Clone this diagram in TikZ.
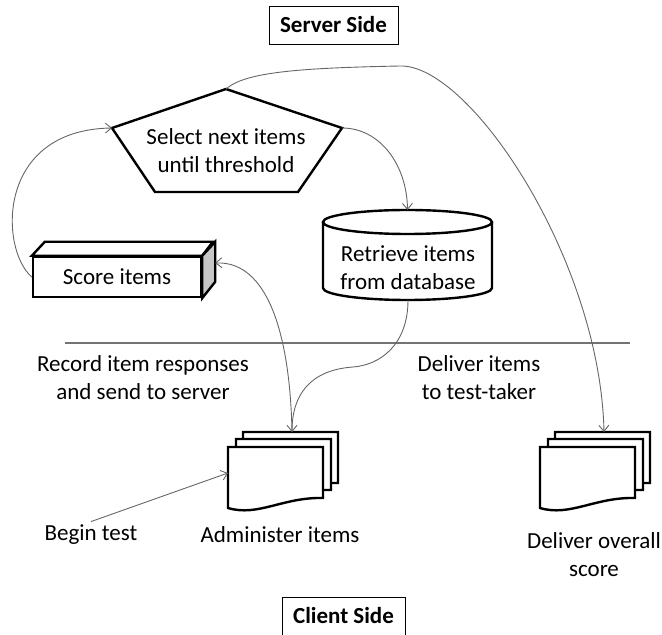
\documentclass[tikz,border=0pt]{standalone}
\usepackage{fontspec}
\setmainfont{Carlito}
\usepackage{tikz}
\usetikzlibrary{arrows.meta, positioning, calc}

\begin{document}
\begin{tikzpicture}[
    x = 1pt, y = 1pt,
    every node/.style = { font = \fontsize{23}{28}\selectfont, align = center },
    shapeline/.style  = { draw = black, line width = 2.4pt },
    sidebox/.style    = {
        rectangle, draw = black, line width = 0.9pt,
        font = \fontsize{23}{28}\selectfont\bfseries,
        minimum width = 129pt, minimum height = 38pt
    },
    flow/.style    = { -{Straight Barb[length=6pt, width=10pt]}, draw = black!60, line width = 0.9pt },
    divider/.style = { draw = black!55, line width = 1.4pt },
    docstack/.pic  = {
        % three sheets, drawn back to front
        \foreach \d in {15, 8, 0} {
            \draw[shapeline, fill = white]
                (\d, \d) -- (\d+95, \d) -- (\d+95, \d-51)
                .. controls (\d+55, \d-50) and (\d+30, \d-70) .. (\d, \d-61) -- cycle;
        }
        \coordinate (-top)  at (64, 15);
        \coordinate (-left) at (0, -26);
    },
]
\useasboundingbox (0,0) rectangle (662,635);

%% ── Side labels ──────────────────────────────────────────────────────────
\node[sidebox] (server) at (333.5,610) {Server Side};
\node[sidebox, minimum width = 123pt] (client) at (343.5,19) {Client Side};

%% ── Selection pentagon ───────────────────────────────────────────────────
\node (select) at (226,484) {Select next items\\until threshold};
\coordinate (sel-top) at ($(select)+(0,62)$);
\coordinate (sel-ul)  at ($(select)+(-114,23)$);
\coordinate (sel-ur)  at ($(select)+(116,23)$);
\coordinate (sel-bl)  at ($(select)+(-71,-41)$);
\coordinate (sel-br)  at ($(select)+(72,-41)$);
\draw[shapeline] (sel-top) -- (sel-ur) -- (sel-br) -- (sel-bl) -- (sel-ul) -- cycle;

%% ── Database cylinder ────────────────────────────────────────────────────
\node (dbase) at (408,367) {Retrieve items\\from database};
\coordinate (dbase-top) at ($(dbase)+(-0.5,58)$);
\coordinate (dbase-bot) at ($(dbase)+(0,-32)$);
\draw[shapeline]
    ($(dbase)+(-85,46)$) -- ($(dbase)+(-85,-20)$)
    arc[start angle = 180, end angle = 360, x radius = 84.5, y radius = 12]
    -- ($(dbase)+(84,46)$);
\draw[shapeline] ($(dbase)+(-0.5,46)$) ellipse[x radius = 84.5, y radius = 12];

%% ── Scoring box (3D) ─────────────────────────────────────────────────────
\node[shapeline, fill = white, minimum width = 168pt, minimum height = 40pt,
      inner sep = 0pt] (score) at (117,358) {Score items};
\draw[shapeline, fill = white]
    (score.north west) -- ++(13,14) -- ++(168,0) -- (score.north east) -- cycle;
\draw[shapeline, fill = black!22]
    (score.north east) -- ++(13,14) -- ++(0,-40) -- (score.south east) -- cycle;
\coordinate (score-side) at ($(score.east)+(13,14)$);

%% ── Client documents ─────────────────────────────────────────────────────
\pic (admin)   at (228,188) {docstack};
\pic (overall) at (540,188) {docstack};

\node (admtxt)   at (280,100) {Administer items};
\node (begin)    at (91,100)  {Begin test};
\node (scoretxt) at (594,80)  {Deliver overall\\score};

%% ── Divider and its captions ─────────────────────────────────────────────
\draw[divider] (65,292) -- (630,292);
\node (record)  at (143,257.5) {Record item responses\\and send to server};
\node (deliver) at (479,257.5) {Deliver items\\to test-taker};

%% ── Flow arrows ──────────────────────────────────────────────────────────
\draw[flow] (score.west) .. controls (0,385) and (-5,505) .. (sel-ul);
\draw[flow] (sel-ur) .. controls (380,507) and (407,470) .. (dbase-top);
\draw[flow] (sel-top) .. controls (245,563) and (300,567) .. (400,569)
    .. controls (470,571) and (600,375) .. (overall-top);
\draw[flow] (dbase-bot) .. controls (408,290) and (380,270) .. (353,268)
    .. controls (310,265) and (292,240) .. (admin-top);
\draw[flow] (admin-top) .. controls (290,300) and (268,374) .. (score-side);
\draw[flow] (begin.north) -- (admin-left);

\end{tikzpicture}
\end{document}
